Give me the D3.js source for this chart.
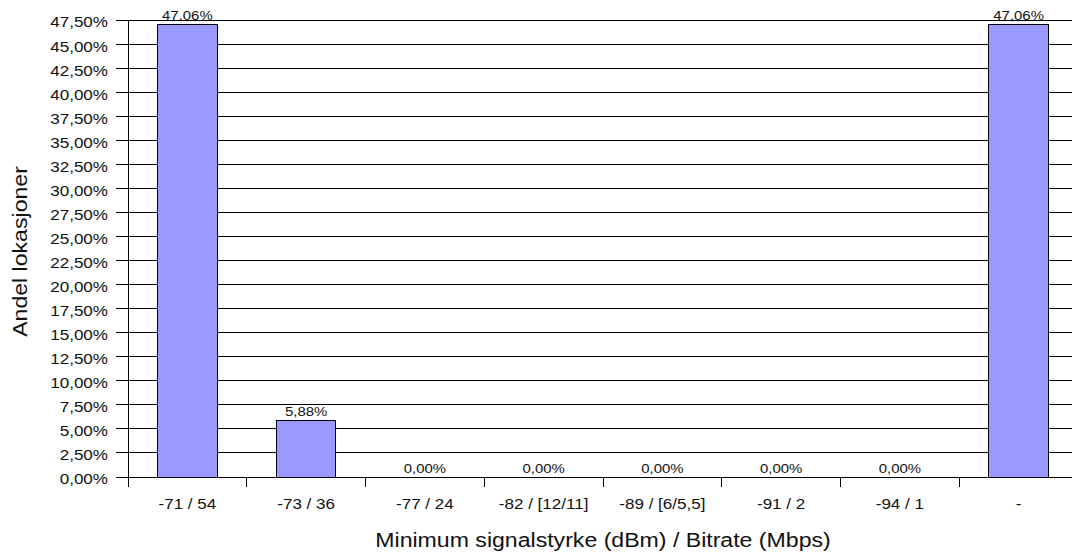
<!DOCTYPE html>
<html>
<head>
<meta charset="utf-8">
<script src="https://cdn.jsdelivr.net/npm/d3@7/dist/d3.min.js"></script>
<style>
  html, body { margin: 0; padding: 0; background: #fff; }
  svg { display: block; }
  text { font-family: "Liberation Sans", Arial, sans-serif; fill: #111; }
</style>
</head>
<body>
<svg id="chart" width="1072" height="556"></svg>
<script>
// Signal strength / bitrate classes and share of locations (%)
const categories = ["-71 / 54", "-73 / 36", "-77 / 24", "-82 / [12/11]", "-89 / [6/5,5]", "-91 / 2", "-94 / 1", "-"];
const shares = [47.06, 5.88, 0.00, 0.00, 0.00, 0.00, 0.00, 47.06];
const yTicks = [0, 2.5, 5, 7.5, 10, 12.5, 15, 17.5, 20, 22.5, 25, 27.5, 30, 32.5, 35, 37.5, 40, 42.5, 45, 47.5];
const yMax = 47.5;
const xTitle = "Minimum signalstyrke (dBm) / Bitrate (Mbps)";
const yTitle = "Andel lokasjoner";

const svg = d3.select("#chart");
const plotLeft = 128, plotRight = 1078, plotTop = 20, plotBottom = 477;

const x = d3.scaleBand().domain(categories).range([plotLeft, plotRight])
  .paddingInner(0.5).paddingOuter(0.25);
const step = x.step();
const y = d3.scaleLinear().domain([0, yMax]).range([plotBottom, plotTop]);

const pct = v => d3.format(".2f")(v).replace(".", ",") + "%";

// horizontal gridlines with left tick stubs
svg.append("g")
  .attr("shape-rendering", "crispEdges")
  .selectAll("line").data(yTicks).join("line")
  .attr("x1", plotLeft - 12).attr("x2", plotRight)
  .attr("y1", d => y(d)).attr("y2", d => y(d))
  .attr("stroke", "#000").attr("stroke-width", 1);

// y axis labels
const yAxis = svg.append("g")
  .attr("transform", `translate(${plotLeft},0)`)
  .call(d3.axisLeft(y).tickValues(yTicks).tickSize(0).tickFormat(pct));
yAxis.select(".domain").remove();
yAxis.selectAll("text")
  .attr("x", null).attr("dy", "0.45em")
  .attr("transform", "translate(-20,0) scale(1.1,1)")
  .style("font-size", "15.5px").style("font-family", "'Liberation Sans', Arial, sans-serif")
  .attr("fill", "#111");

// vertical axis line (extends below zero like a tick)
svg.append("line")
  .attr("shape-rendering", "crispEdges")
  .attr("x1", plotLeft).attr("x2", plotLeft).attr("y1", plotTop).attr("y2", plotBottom + 10)
  .attr("stroke", "#000");

// category boundary ticks
const bounds = categories.map(c => x(c) - step * 0.25).slice(1);
bounds.push(plotRight);
svg.append("g")
  .attr("shape-rendering", "crispEdges")
  .selectAll("line").data(bounds).join("line")
  .attr("x1", d => d).attr("x2", d => d)
  .attr("y1", plotBottom).attr("y2", plotBottom + 10)
  .attr("stroke", "#000");

// bars
svg.append("g")
  .attr("shape-rendering", "crispEdges")
  .selectAll("rect").data(categories).join("rect")
  .attr("x", c => x(c))
  .attr("width", x.bandwidth())
  .attr("y", (c, i) => y(shares[i]))
  .attr("height", (c, i) => y(0) - y(shares[i]))
  .attr("fill", "#9999ff")
  .attr("stroke", "#000").attr("stroke-width", 1);

// value labels
svg.append("g")
  .selectAll("text").data(categories).join("text")
  .attr("transform", (c, i) => `translate(${x(c) + x.bandwidth() / 2},${y(shares[i]) - 4}) scale(1.15,1)`)
  .attr("text-anchor", "middle")
  .style("font-size", "13px")
  .text((c, i) => pct(shares[i]));

// x axis line and category labels
svg.append("line")
  .attr("shape-rendering", "crispEdges")
  .attr("x1", plotLeft - 12).attr("x2", plotRight).attr("y1", plotBottom).attr("y2", plotBottom)
  .attr("stroke", "#000");
const xAxis = svg.append("g")
  .attr("transform", `translate(0,${plotBottom})`)
  .call(d3.axisBottom(x).tickSize(0));
xAxis.select(".domain").remove();
xAxis.selectAll("text")
  .attr("y", null).attr("dy", null)
  .attr("transform", "translate(0,32) scale(1.1,1)")
  .style("font-size", "15.5px").style("font-family", "'Liberation Sans', Arial, sans-serif")
  .attr("fill", "#111");

// axis titles
svg.append("text")
  .attr("transform", `translate(${(plotLeft + plotRight) / 2},547) scale(1.1,1)`)
  .attr("text-anchor", "middle")
  .style("font-size", "21px")
  .text(xTitle);

svg.append("text")
  .attr("transform", `translate(27,${(plotTop + plotBottom) / 2 + 3}) rotate(-90) scale(1.1,1)`)
  .attr("text-anchor", "middle")
  .style("font-size", "21px")
  .text(yTitle);
</script>
</body>
</html>
